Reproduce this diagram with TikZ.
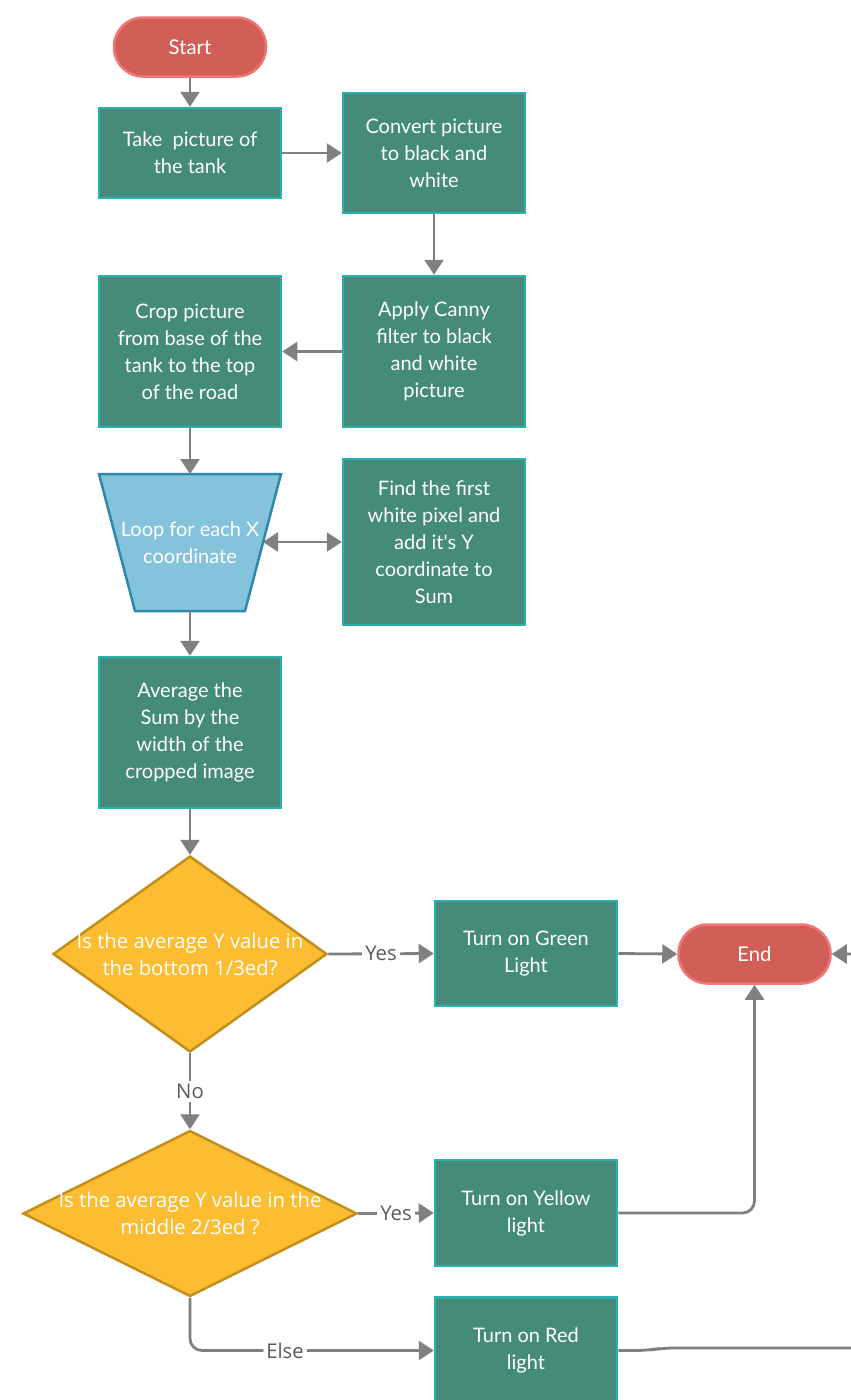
\documentclass[tikz,border=0pt]{standalone}
\usepackage{fontspec}
\setmainfont{Lato}
\newfontfamily\osans{Open Sans}
\usetikzlibrary{arrows.meta,shapes.geometric}
\definecolor{boxfill}{HTML}{458B79}
\definecolor{boxline}{HTML}{2BAFAF}
\definecolor{termfill}{HTML}{D15E57}
\definecolor{termline}{HTML}{F07674}
\definecolor{loopfill}{HTML}{84C3DB}
\definecolor{loopline}{HTML}{2C89AB}
\definecolor{decfill}{HTML}{FCBD33}
\definecolor{decline}{HTML}{C28F1A}
\definecolor{arrowgray}{HTML}{808080}
\definecolor{labgray}{HTML}{5A5A5A}
\tikzset{
  proc/.style={draw=boxline, fill=boxfill, line width=2.5pt, minimum width=182pt, inner sep=0pt,
    text=white, align=center, font=\fontsize{20}{27}\selectfont},
  term/.style={draw=termline, fill=termfill, line width=2.5pt, minimum width=152pt, minimum height=59pt,
    rounded corners=29pt, inner sep=0pt, text=white, font=\fontsize{20.3}{27}\selectfont},
  dec/.style={diamond, draw=decline, fill=decfill, line width=2.5pt, inner sep=0pt},
  dectext/.style={text=white, align=center, inner sep=0pt, font=\osans\fontsize{20.3}{27}\selectfont},
  looptext/.style={text=white, align=center, inner sep=0pt, font=\fontsize{20}{27}\selectfont},
  conn/.style={draw=arrowgray, line width=2.8pt, -{Triangle[length=15pt,width=19pt]}},
  biconn/.style={draw=arrowgray, line width=2.8pt, {Triangle[length=15pt,width=19pt]}-{Triangle[length=15pt,width=19pt]}},
  lab/.style={fill=white, text=labgray, inner sep=3pt, font=\osans\fontsize{20.3}{22}\selectfont},
}
\begin{document}
\begin{tikzpicture}[x=1pt,y=-1pt]
\useasboundingbox (0,0) rectangle (851,1400);
\clip (0,0) rectangle (851,1400);
% terminals
\node[term] (start) at (190,47) {Start};
\node[term] (end) at (754.5,954) {End};
% process boxes
\node[proc, minimum height=90pt] (take) at (190,153) {Take\ \ picture of\\the tank};
\node[proc, minimum height=120pt] (conv) at (434,153) {Convert picture\\to black and\\white};
\node[proc, minimum height=151pt] (canny) at (434,351.5) {Apply Canny\\filter to black\\and white\\picture};
\node[proc, minimum height=151pt] (crop) at (190,351.5) {Crop picture\\from base of the\\tank to the top\\of the road};
\node[proc, minimum height=166pt] (find) at (434,542) {Find the first\\white pixel and\\add it\textquotesingle s Y\\coordinate to\\Sum};
\node[proc, minimum height=151pt] (avg) at (190,732.5) {Average the\\Sum by the\\width of the\\cropped image};
\node[proc, minimum height=105pt] (green) at (526,953.5) {Turn on Green\\Light};
\node[proc, minimum height=106pt] (yellow) at (526,1213) {Turn on Yellow\\light};
\node[proc, minimum height=106pt] (red) at (526,1350.5) {Turn on Red\\light};
% loop trapezium
\draw[draw=loopline, fill=loopfill, line width=2.5pt] (99,474) -- (281,474) -- (245,611) -- (135,611) -- cycle;
\node[looptext] (loop) at (190,542.5) {Loop for each X\\coordinate};
\coordinate (loopT) at (190,474);
\coordinate (loopB) at (190,611);
\coordinate (loopR) at (263,542);
% decisions
\node[dec, minimum width=274pt, minimum height=196pt] (d1) at (190,954) {};
\node[dectext] (d1t) at (190,954) {Is the average Y value in\\the bottom 1/3ed?};
\node[dec, minimum width=334pt, minimum height=166pt] (d2) at (190,1213.5) {};
\node[dectext] (d2t) at (190,1213.5) {Is the average Y value in the\\middle 2/3ed ?};
\coordinate (offR) at (880,1348);
% connectors
\draw[conn] (start.south) -- (take.north);
\draw[conn] (take.east) -- (take.east -| conv.west);
\draw[conn] (conv.south) -- (canny.north);
\draw[conn] (canny.west) -- (crop.east);
\draw[conn] (crop.south) -- (loopT);
\draw[biconn] (loopR) -- (loopR -| find.west);
\draw[conn] (loopB) -- (avg.north);
\draw[conn] (avg.south) -- (d1.north);
\draw[conn] (d1.east) -- node[lab, pos=0.5]{Yes} (green.west);
\draw[conn] (green.east) -- (end.west);
\draw[conn] (d1.south) -- node[lab, pos=0.5]{No} (d2.north);
\draw[conn] (d2.east) -- node[lab, pos=0.5]{Yes} (yellow.west);
\draw[conn, rounded corners=12pt] (yellow.east) -| (end.south);
\draw[conn, rounded corners=12pt] (d2.south) |- node[lab, pos=0.695]{Else} (red.west);
\draw[conn, rounded corners=12pt] (red.east) -- (648,1350.5) -- (662,1348) -- (offR) |- (end.east);
\end{tikzpicture}
\end{document}
